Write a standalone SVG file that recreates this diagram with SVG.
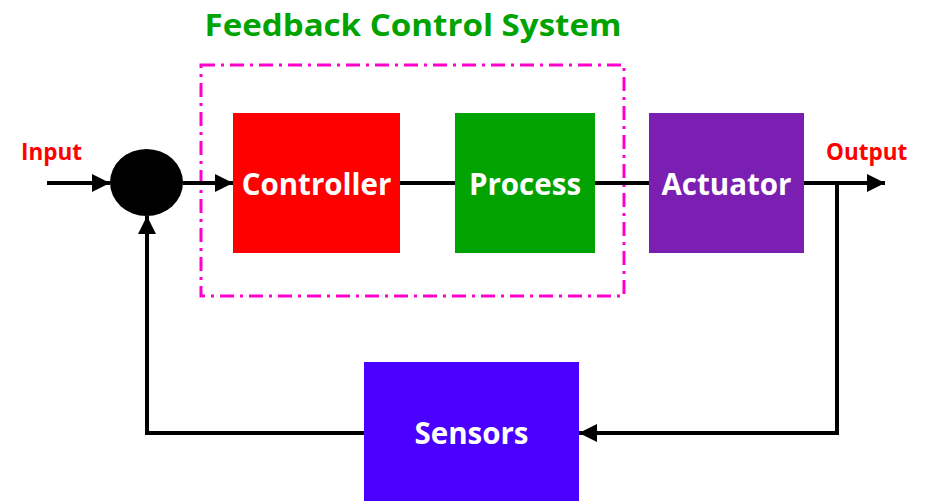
<svg xmlns="http://www.w3.org/2000/svg" width="928" height="501" viewBox="0 0 928 501">
  <style>
    .lbl { font-family: "Open Sans", "Liberation Sans", sans-serif; font-weight: bold; }
    .box-text { fill: #ffffff; font-size: 29.5px; text-anchor: middle; }
    .io { fill: #ff0000; font-size: 22.5px; }
    .wire { fill: none; stroke: #000000; stroke-width: 4; }
  </style>
  <defs>
    <marker id="arrow" viewBox="0 0 10 10" refX="10" refY="5" markerWidth="4.5" markerHeight="4.5" markerUnits="strokeWidth" orient="auto">
      <path d="M0,0 L10,5 L0,10 Z" fill="#000000"/>
    </marker>
  </defs>

  <rect width="928" height="501" fill="#ffffff"/>

  <text class="lbl" x="413" y="36" font-size="31" fill="#00a300" text-anchor="middle" textLength="417" lengthAdjust="spacingAndGlyphs">Feedback Control System</text>

  <!-- controller + process boundary -->
  <rect x="201" y="65" width="423" height="231" fill="none" stroke="#ff00cc" stroke-width="3" stroke-dasharray="14 6 3 6"/>

  <g id="connectors">
    <line class="wire" x1="47" y1="183" x2="110" y2="183" marker-end="url(#arrow)"/>
    <line class="wire" x1="183" y1="183" x2="233" y2="183" marker-end="url(#arrow)"/>
    <line class="wire" x1="400" y1="183" x2="455" y2="183"/>
    <line class="wire" x1="595" y1="183" x2="649" y2="183"/>
    <line class="wire" x1="804" y1="183" x2="885" y2="183" marker-end="url(#arrow)"/>
    <polyline class="wire" points="837,183 837,433 579,433" marker-end="url(#arrow)"/>
    <polyline class="wire" points="364,433 147,433 147,216" marker-end="url(#arrow)"/>
  </g>

  <g id="input-label">
    <text class="lbl io" x="21" y="160">Input</text>
  </g>
  <g id="output-label">
    <text class="lbl io" x="826" y="160">Output</text>
  </g>

  <g id="summing-junction">
    <ellipse cx="146.5" cy="182.5" rx="36.5" ry="33.5" fill="#000000"/>
  </g>

  <g id="controller">
    <rect x="233" y="113" width="167" height="140" fill="#ff0000"/>
    <text class="lbl box-text" x="316.5" y="195">Controller</text>
  </g>

  <g id="process">
    <rect x="455" y="113" width="140" height="140" fill="#00a300"/>
    <text class="lbl box-text" x="525" y="195">Process</text>
  </g>

  <g id="actuator">
    <rect x="649" y="113" width="155" height="140" fill="#7b1fb3"/>
    <text class="lbl box-text" x="726.5" y="195">Actuator</text>
  </g>

  <g id="sensors">
    <rect x="364" y="362" width="215" height="145" fill="#4a00ff"/>
    <text class="lbl box-text" x="471.5" y="444">Sensors</text>
  </g>
</svg>
